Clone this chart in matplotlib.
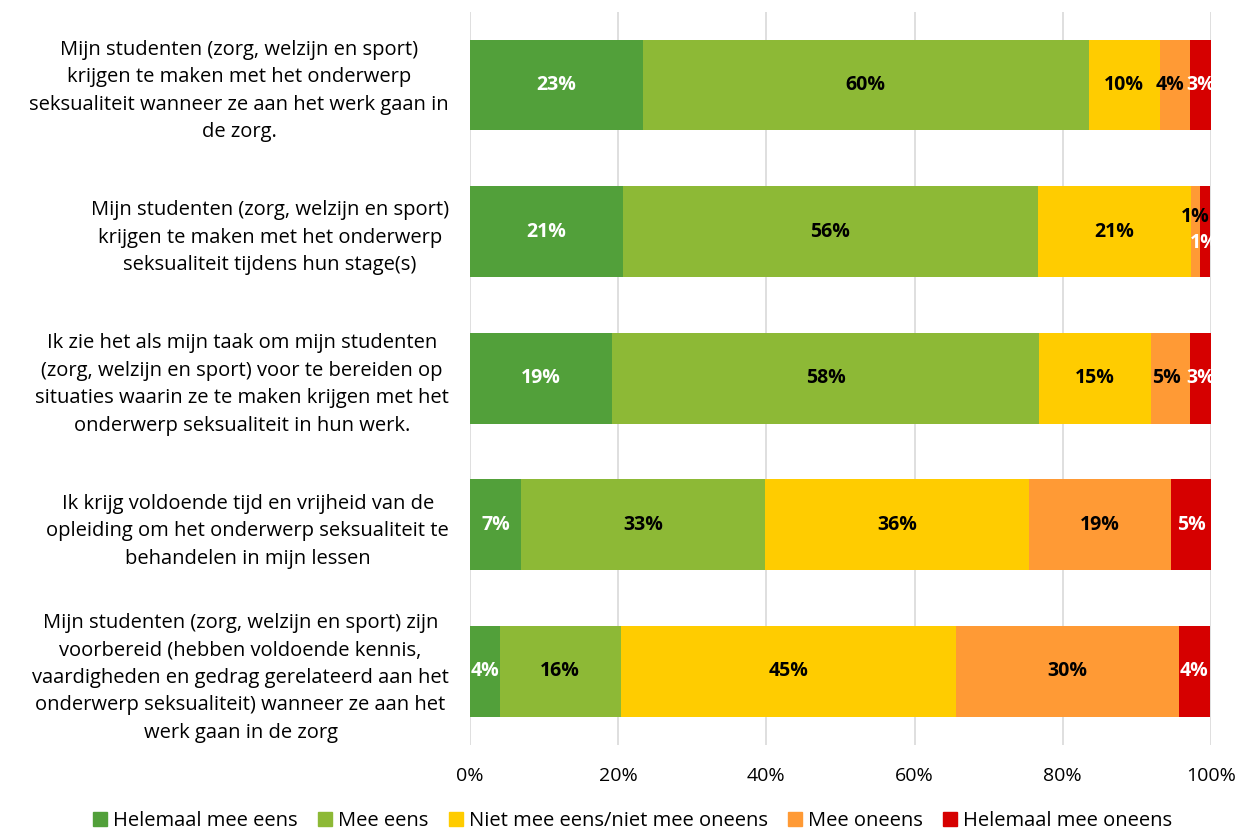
import matplotlib.pyplot as plt
from matplotlib.patches import Patch
import numpy as np

plt.rcParams['font.family'] = ['Open Sans', 'DejaVu Sans']

statements = [
    "Mijn studenten (zorg, welzijn en sport)\nkrijgen te maken met het onderwerp\nseksualiteit wanneer ze aan het werk gaan in\nde zorg.",
    "Mijn studenten (zorg, welzijn en sport)\nkrijgen te maken met het onderwerp\nseksualiteit tijdens hun stage(s)",
    "Ik zie het als mijn taak om mijn studenten\n(zorg, welzijn en sport) voor te bereiden op\nsituaties waarin ze te maken krijgen met het\nonderwerp seksualiteit in hun werk.",
    "Ik krijg voldoende tijd en vrijheid van de\nopleiding om het onderwerp seksualiteit te\nbehandelen in mijn lessen",
    "Mijn studenten (zorg, welzijn en sport) zijn\nvoorbereid (hebben voldoende kennis,\nvaardigheden en gedrag gerelateerd aan het\nonderwerp seksualiteit) wanneer ze aan het\nwerk gaan in de zorg",
]
answers = ["Helemaal mee eens", "Mee eens", "Niet mee eens/niet mee oneens",
           "Mee oneens", "Helemaal mee oneens"]

helemaal_eens = [23.3, 20.6, 19.2, 6.9, 4.0]
mee_eens = [60.2, 56.1, 57.6, 32.9, 16.4]
neutraal = [9.6, 20.6, 15.1, 35.6, 45.2]
mee_oneens = [4.0, 1.2, 5.3, 19.2, 30.1]
helemaal_oneens = [2.9, 1.3, 2.8, 5.4, 4.1]

colors = ["#52A03A", "#8DB936", "#FFCC00", "#FF9A35", "#D60000"]
text_colors = ["white", "black", "black", "black", "white"]

series = [helemaal_eens, mee_eens, neutraal, mee_oneens, helemaal_oneens]

fig = plt.figure(figsize=(12.53, 8.34), dpi=100)
ax = fig.add_axes([0.375, 0.107, 0.5915, 0.879])

y = np.arange(len(statements))
left = np.zeros(len(statements))
for vals, col, tc, name in zip(series, colors, text_colors, answers):
    vals = np.array(vals)
    ax.barh(y, vals / 100, left=left / 100, height=0.62, color=col, label=name, zorder=3)
    for i, v in enumerate(vals):
        dx, dy = 0, 0
        # small neighbouring segments: nudge labels so they don't collide
        if name == "Mee oneens" and i in (0, 2):
            dx = -0.006
        if i == 1 and name == "Mee oneens":
            dy = -0.1
        elif i == 1 and name == "Helemaal mee oneens":
            dy = 0.075
        ax.text((left[i] + v / 2) / 100 + dx, y[i] + dy, f"{round(v):.0f}%", ha='center', va='center',
                color=tc, fontsize=14, fontweight='bold', zorder=4)
    left += vals

ax.set_xlim(0, 1)
ax.set_ylim(len(statements) - 0.5, -0.5)
ax.set_xticks(np.arange(0, 1.01, 0.2))
ax.set_xticklabels([f"{int(t*100)}%" for t in np.arange(0, 1.01, 0.2)], fontsize=14)
ax.set_yticks(y)
ax.set_yticklabels(statements, fontsize=14.5, linespacing=1.5)
for lbl in ax.get_yticklabels():
    lbl.set_multialignment('center')
ax.tick_params(axis='x', length=0, pad=16)
ax.tick_params(axis='y', length=0, pad=15)
ax.grid(axis='x', color='#D9D9D9', linewidth=1.2, zorder=0)
for s in ax.spines.values():
    s.set_visible(False)

handles = [Patch(color=c, label=a) for c, a in zip(colors, answers)]
fig.legend(handles=handles, loc='lower center', bbox_to_anchor=(0.505, -0.018), ncol=5,
           frameon=False, fontsize=14.5, handlelength=0.7, handleheight=0.7,
           handletextpad=0.3, columnspacing=1.0)

fig.savefig("out.png", dpi=100)
